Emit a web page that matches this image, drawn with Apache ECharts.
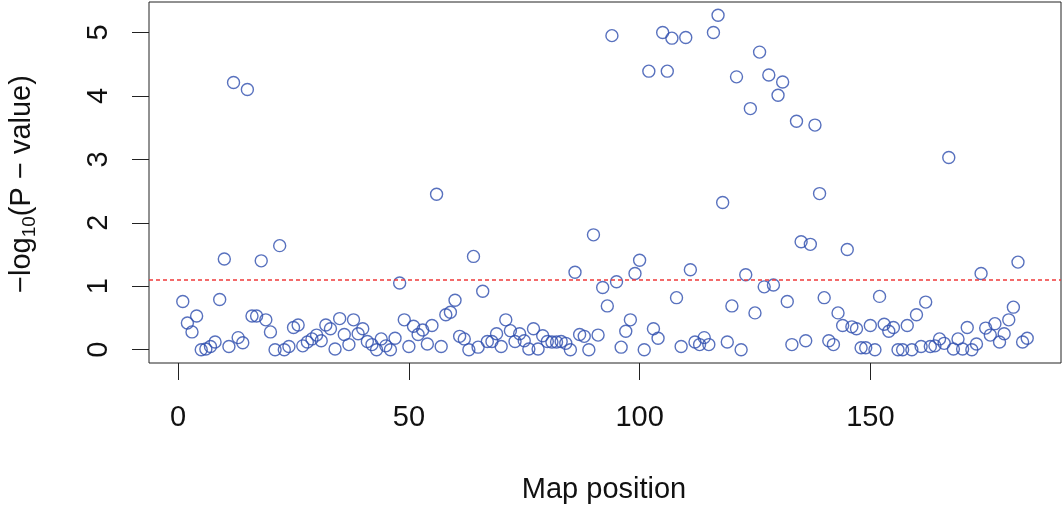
<!DOCTYPE html>
<html>
<head>
<meta charset="utf-8">
<script src="https://cdn.jsdelivr.net/npm/echarts@6/dist/echarts.min.js"></script>
<style>
html,body{margin:0;padding:0;background:#fff;}
#chart{width:1063px;height:506px;}
</style>
</head>
<body>
<div id="chart"></div>
<script>
// Marker index along the map (1..184) and -log10(P) values
const mapPositions = [
  1,2,3,4,5,6,7,8,9,10,11,12,13,14,15,16,17,18,19,20,
  21,22,23,24,25,26,27,28,29,30,31,32,33,34,35,36,37,38,39,40,
  41,42,43,44,45,46,47,48,49,50,51,52,53,54,55,56,57,58,59,60,
  61,62,63,64,65,66,67,68,69,70,71,72,73,74,75,76,77,78,79,80,
  81,82,83,84,85,86,87,88,89,90,91,92,93,94,95,96,97,98,99,100,
  101,102,103,104,105,106,107,108,109,110,111,112,113,114,115,116,117,118,119,120,
  121,122,123,124,125,126,127,128,129,130,131,132,133,134,135,136,137,138,139,140,
  141,142,143,144,145,146,147,148,149,150,151,152,153,154,155,156,157,158,159,160,
  161,162,163,164,165,166,167,168,169,170,171,172,173,174,175,176,177,178,179,180,
  181,182,183,184
];
const logP = [
  0.76,0.42,0.28,0.53,0.00,0.01,0.05,0.12,0.79,1.43,0.05,4.21,0.19,0.11,4.10,0.53,0.53,1.40,0.47,0.28,
  0.00,1.64,0.00,0.05,0.35,0.39,0.06,0.12,0.17,0.23,0.14,0.39,0.33,0.01,0.49,0.24,0.08,0.47,0.25,0.33,
  0.13,0.08,0.00,0.17,0.06,0.00,0.18,1.05,0.47,0.05,0.37,0.24,0.31,0.09,0.38,2.45,0.05,0.55,0.59,0.78,
  0.21,0.17,0.00,1.47,0.04,0.92,0.13,0.13,0.25,0.05,0.47,0.30,0.13,0.25,0.14,0.01,0.33,0.01,0.22,0.13,
  0.12,0.12,0.13,0.10,0.00,1.22,0.24,0.21,0.00,1.81,0.23,0.98,0.69,4.95,1.07,0.04,0.29,0.47,1.20,1.41,
  0.00,4.39,0.33,0.18,5.00,4.39,4.91,0.82,0.05,4.92,1.26,0.12,0.08,0.19,0.08,5.00,5.27,2.32,0.12,0.69,
  4.30,0.00,1.18,3.80,0.58,4.69,0.99,4.33,1.02,4.01,4.22,0.76,0.08,3.60,1.70,0.14,1.66,3.54,2.46,0.82,
  0.14,0.08,0.58,0.38,1.58,0.36,0.33,0.03,0.03,0.38,0.00,0.84,0.40,0.29,0.35,0.00,0.00,0.38,0.00,0.55,
  0.05,0.75,0.05,0.06,0.17,0.10,3.03,0.01,0.17,0.01,0.35,0.00,0.09,1.20,0.34,0.23,0.41,0.12,0.25,0.47,
  0.67,1.38,0.12,0.18
];
const xTicks = [0, 50, 100, 150];
const yTicks = [0, 1, 2, 3, 4, 5];
const threshold = 1.11;
const xLabel = 'Map position';

const FONT = "'Liberation Sans', Arial, sans-serif";
const TXT = '#111';

const points = mapPositions.map((p, i) => [p, logP[i]]);

const chart = echarts.init(document.getElementById('chart'), null, {renderer: 'canvas'});
chart.setOption({
  animation: false,
  backgroundColor: '#fff',
  grid: {
    left: 149, top: 2, width: 912, height: 361,
    show: true, borderColor: '#222', borderWidth: 1, backgroundColor: 'transparent'
  },
  xAxis: {
    type: 'value', min: -6.32, max: 191.32,
    splitLine: {show: false},
    axisLine: {show: false, onZero: false},
    axisTick: {show: true, customValues: xTicks, length: 17, inside: false,
      lineStyle: {color: '#222', width: 1}},
    axisLabel: {customValues: xTicks, fontSize: 29, color: TXT, fontFamily: FONT, margin: 40}
  },
  yAxis: {
    type: 'value', min: -0.21, max: 5.48,
    splitLine: {show: false},
    axisLine: {show: false, onZero: false},
    axisTick: {show: true, customValues: yTicks, length: 17, inside: false,
      lineStyle: {color: '#222', width: 1}},
    axisLabel: {customValues: yTicks, fontSize: 29, color: TXT, fontFamily: FONT,
      rotate: 90, margin: 36}
  },
  graphic: [
    {
      type: 'text',
      x: 604, y: 490,
      style: {text: xLabel, fontSize: 29, fill: TXT, fontFamily: FONT,
        align: 'center', verticalAlign: 'middle'}
    },
    {
      type: 'text',
      x: 22, y: 184, rotation: Math.PI / 2,
      style: {
        text: '{a|\u2212log}{b|10}{a|(P \u2212 value)}',
        align: 'center', verticalAlign: 'middle',
        rich: {
          a: {fontSize: 29, fill: TXT, fontFamily: FONT, lineHeight: 34, verticalAlign: 'middle'},
          b: {fontSize: 19, fill: TXT, fontFamily: FONT, lineHeight: 19, verticalAlign: 'bottom'}
        }
      }
    }
  ],
  series: [{
    type: 'scatter',
    data: points,
    symbol: 'circle',
    symbolSize: 12,
    itemStyle: {color: 'rgba(0,0,0,0)', borderColor: '#2E4DAE', borderWidth: 1.4},
    markLine: {
      silent: true, symbol: 'none', label: {show: false},
      lineStyle: {color: '#F03A3A', type: [4, 3], width: 1.6},
      data: [{yAxis: threshold}]
    }
  }]
});
</script>
</body>
</html>
